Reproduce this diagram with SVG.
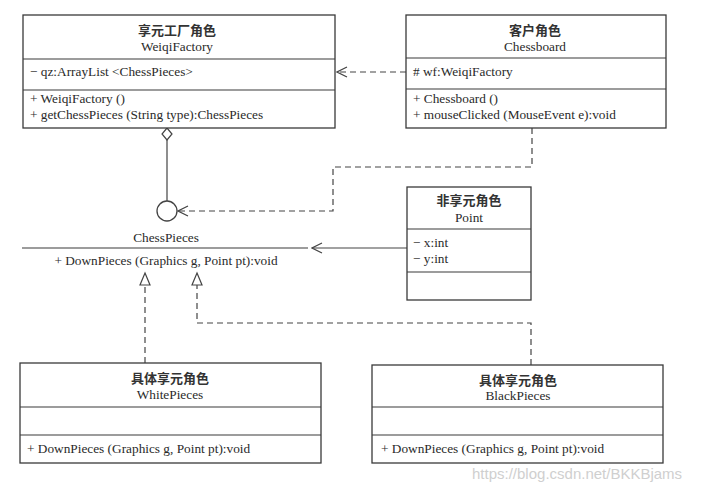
<svg xmlns="http://www.w3.org/2000/svg" width="702" height="491" viewBox="0 0 702 491">
<style>
.box{fill:#fff;stroke:#3a3a3a;stroke-width:1.3}
.div{stroke:#3a3a3a;stroke-width:1.1}
text{font-family:"Liberation Serif","Noto Sans CJK SC",serif;font-size:13.3px;fill:#2a2a2a}
.c{text-anchor:middle}
.cn{font-size:13px;font-weight:bold;fill:#333}
.ln{fill:none;stroke:#444;stroke-width:1.2}
.dash{stroke-dasharray:6,4}
.wm{font-family:"Liberation Sans",sans-serif;font-size:15px;fill:#cfcfcf}
</style>
<defs>
<marker id="open" markerWidth="12" markerHeight="12" refX="11" refY="6" orient="auto" markerUnits="userSpaceOnUse">
<path d="M1,1 L11,6 L1,11" fill="none" stroke="#444" stroke-width="1.2"/>
</marker>
</defs>
<rect width="702" height="491" fill="#fff"/>

<g id="connectors">
<line class="ln dash" x1="406" y1="72" x2="337" y2="72" marker-end="url(#open)"/>
<path class="ln" d="M167,128 L172,134 L167,140 L162,134 Z" fill="#fff"/>
<line class="ln" x1="167" y1="140" x2="167" y2="201"/>
<circle cx="167" cy="211" r="10" fill="#fff" stroke="#444" stroke-width="1.3"/>
<path class="ln dash" d="M532,128 L532,167 L333,167 L333,211 L178,211" marker-end="url(#open)"/>
<line class="ln" x1="407" y1="248" x2="312" y2="248" marker-end="url(#open)"/>
<path class="ln dash" d="M145,363 L145,285"/>
<path d="M145,273 L150,285 L140,285 Z" fill="#fff" stroke="#444" stroke-width="1.2"/>
<path class="ln dash" d="M531,365 L531,323 L197,323 L197,285"/>
<path d="M197,273 L202,285 L192,285 Z" fill="#fff" stroke="#444" stroke-width="1.2"/>
</g>

<g id="WeiqiFactory">
<rect class="box" x="23" y="15" width="312" height="113"/>
<line class="div" x1="23" y1="59" x2="335" y2="59"/>
<line class="div" x1="23" y1="90" x2="335" y2="90"/>
<text class="c cn" x="177" y="35">享元工厂角色</text>
<text class="c" x="177" y="51">WeiqiFactory</text>
<text x="30" y="76">− qz:ArrayList &lt;ChessPieces&gt;</text>
<text x="30" y="103">+ WeiqiFactory ()</text>
<text x="30" y="119">+ getChessPieces (String type):ChessPieces</text>
</g>

<g id="Chessboard">
<rect class="box" x="406" y="15" width="260" height="113"/>
<line class="div" x1="406" y1="58" x2="666" y2="58"/>
<line class="div" x1="406" y1="89" x2="666" y2="89"/>
<text class="c cn" x="535" y="35">客户角色</text>
<text class="c" x="535" y="51">Chessboard</text>
<text x="413" y="76"># wf:WeiqiFactory</text>
<text x="413" y="103">+ Chessboard ()</text>
<text x="413" y="119">+ mouseClicked (MouseEvent e):void</text>
</g>

<g id="ChessPieces">
<text class="c" x="166" y="242">ChessPieces</text>
<line class="div" x1="22" y1="248" x2="308" y2="248"/>
<text class="c" x="166" y="265">+ DownPieces (Graphics g, Point pt):void</text>
</g>

<g id="Point">
<rect class="box" x="407" y="187" width="124" height="113"/>
<line class="div" x1="407" y1="229" x2="531" y2="229"/>
<line class="div" x1="407" y1="272" x2="531" y2="272"/>
<text class="c cn" x="469" y="205">非享元角色</text>
<text class="c" x="469" y="222">Point</text>
<text x="413" y="247">− x:int</text>
<text x="413" y="263">− y:int</text>
</g>

<g id="WhitePieces">
<rect class="box" x="20" y="363" width="301" height="100"/>
<line class="div" x1="20" y1="407" x2="321" y2="407"/>
<line class="div" x1="20" y1="435" x2="321" y2="435"/>
<text class="c cn" x="170" y="383">具体享元角色</text>
<text class="c" x="170" y="399">WhitePieces</text>
<text x="27" y="453">+ DownPieces (Graphics g, Point pt):void</text>
</g>

<g id="BlackPieces">
<rect class="box" x="372" y="365" width="291" height="98"/>
<line class="div" x1="372" y1="407" x2="663" y2="407"/>
<line class="div" x1="372" y1="435" x2="663" y2="435"/>
<text class="c cn" x="518" y="385">具体享元角色</text>
<text class="c" x="518" y="400">BlackPieces</text>
<text x="381" y="453">+ DownPieces (Graphics g, Point pt):void</text>
</g>

<text class="wm" x="472" y="479">https://blog.csdn.net/BKKBjams</text>
</svg>
